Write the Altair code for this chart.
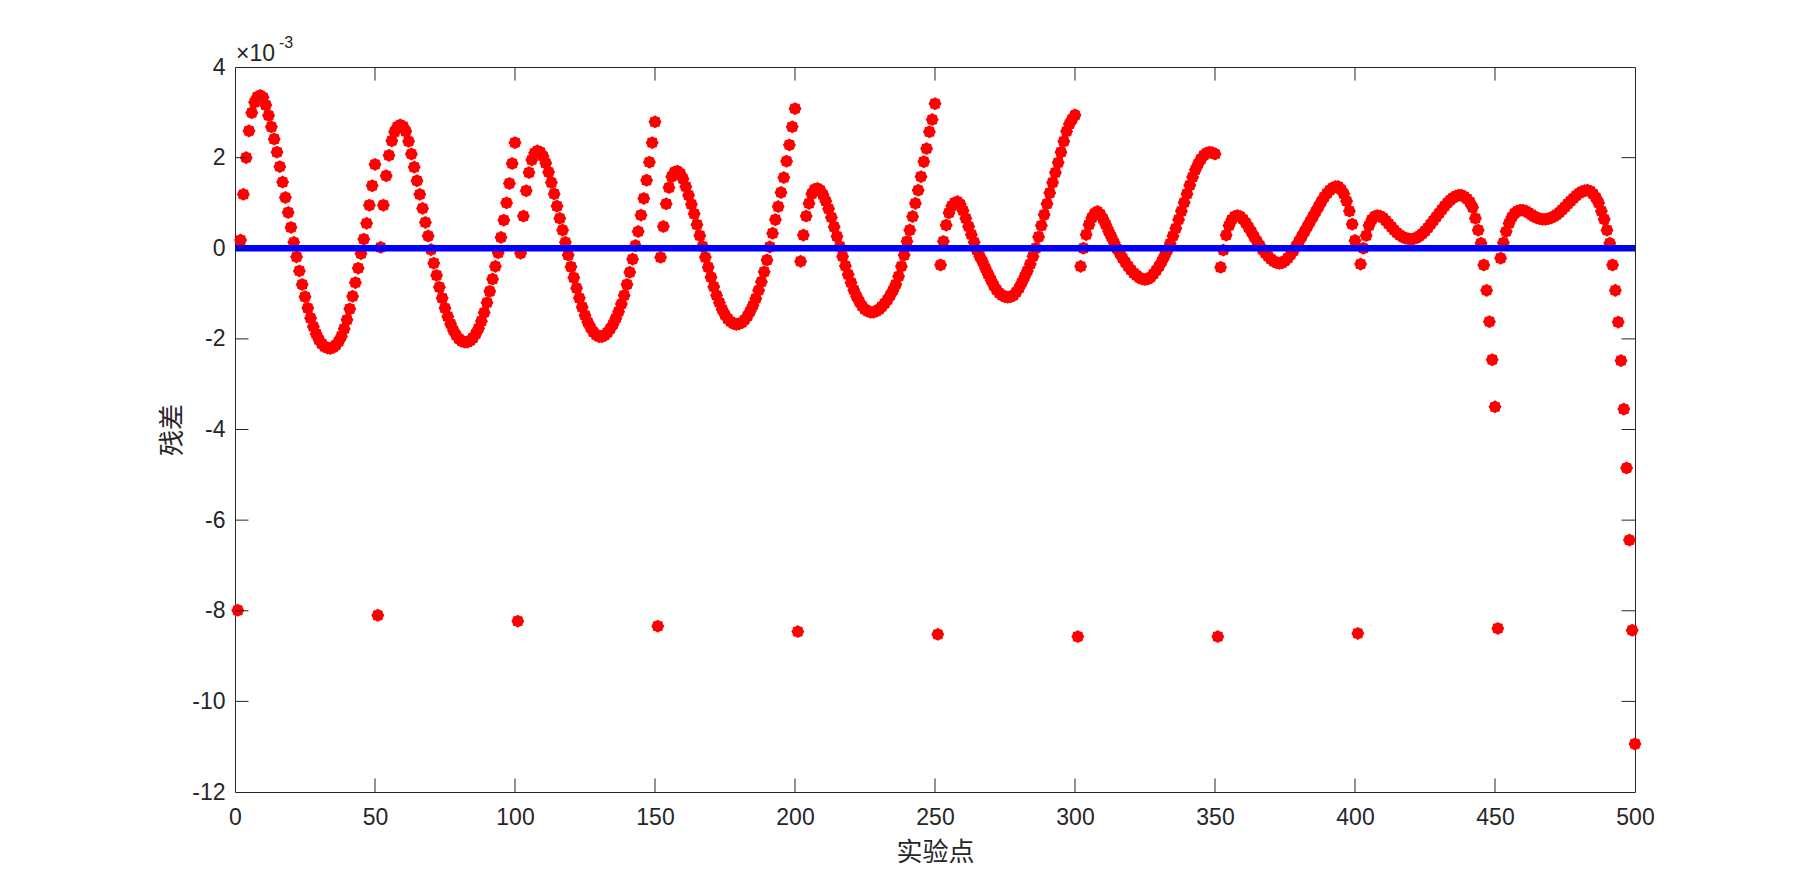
import math
import altair as alt
import pandas as pd

# ---- data (residuals, in units of 1e-3) ----
seg_start = [2, 52, 102, 152, 202, 252, 302, 352, 402, 452]

seg1 = [0.18, 1.19, 2.00, 2.59, 2.99, 3.22, 3.34, 3.37, 3.33, 3.16, 2.93, 2.68, 2.41, 2.12, 1.80,
        1.46, 1.12, 0.79, 0.46, 0.13, -0.19, -0.50, -0.80, -1.07, -1.32, -1.54, -1.73, -1.89,
        -2.02, -2.11, -2.17, -2.20, -2.21, -2.19, -2.14, -2.06, -1.94, -1.78, -1.58, -1.34,
        -1.06, -0.76, -0.44, -0.12, 0.20, 0.55, 0.95, 1.38, 1.85]
seg2 = [0.02, 0.95, 1.60, 2.05, 2.37, 2.57, 2.68, 2.72, 2.69, 2.58, 2.36, 2.08, 1.79, 1.49, 1.19,
        0.88, 0.57, 0.27, -0.03, -0.33, -0.60, -0.86, -1.10, -1.32, -1.51, -1.67, -1.81, -1.92,
        -2.00, -2.05, -2.07, -2.07, -2.04, -1.98, -1.89, -1.77, -1.61, -1.42, -1.20, -0.95,
        -0.68, -0.40, -0.10, 0.24, 0.62, 1.00, 1.43, 1.87, 2.33]
seg3 = [-0.11, 0.71, 1.27, 1.67, 1.95, 2.10, 2.15, 2.12, 2.03, 1.88, 1.68, 1.45, 1.20, 0.93, 0.66,
        0.40, 0.13, -0.15, -0.41, -0.65, -0.88, -1.10, -1.30, -1.48, -1.63, -1.75, -1.85, -1.91,
        -1.95, -1.95, -1.92, -1.86, -1.78, -1.68, -1.55, -1.40, -1.23, -1.04, -0.80, -0.53,
        -0.24, 0.06, 0.37, 0.73, 1.10, 1.50, 1.90, 2.33, 2.79]
seg4 = [-0.20, 0.48, 0.98, 1.34, 1.58, 1.68, 1.70, 1.65, 1.53, 1.36, 1.17, 0.97, 0.76, 0.52, 0.28,
        0.04, -0.20, -0.42, -0.64, -0.85, -1.04, -1.20, -1.35, -1.47, -1.56, -1.62, -1.66, -1.68,
        -1.67, -1.64, -1.58, -1.50, -1.39, -1.26, -1.11, -0.93, -0.74, -0.52, -0.26, 0.03,
        0.33, 0.63, 0.92, 1.23, 1.56, 1.92, 2.28, 2.68, 3.08]
seg5 = [-0.29, 0.29, 0.71, 0.99, 1.20, 1.30, 1.32, 1.28, 1.18, 1.04, 0.87, 0.68, 0.47, 0.26, 0.04,
        -0.18, -0.39, -0.58, -0.76, -0.92, -1.06, -1.18, -1.28, -1.35, -1.39, -1.41, -1.41, -1.39,
        -1.35, -1.29, -1.22, -1.14, -1.04, -0.93, -0.80, -0.62, -0.40, -0.15, 0.15, 0.40,
        0.70, 0.99, 1.28, 1.58, 1.91, 2.20, 2.57, 2.84, 3.19]
seg6 = [-0.37, 0.15, 0.51, 0.78, 0.93, 1.00, 1.03, 0.97, 0.83, 0.66, 0.48, 0.30, 0.13, -0.04, -0.18,
        -0.30, -0.44, -0.57, -0.70, -0.82, -0.92, -0.99, -1.04, -1.07, -1.08, -1.07, -1.04, -0.97,
        -0.88, -0.76, -0.63, -0.50, -0.35, -0.18, 0.00, 0.25, 0.50, 0.74, 0.98, 1.22,
        1.45, 1.67, 1.89, 2.12, 2.36, 2.58, 2.74, 2.85, 2.94]
seg7 = [-0.40, 0.00, 0.30, 0.52, 0.67, 0.77, 0.81, 0.75, 0.65, 0.52, 0.38, 0.25, 0.12, -0.01, -0.11,
        -0.22, -0.31, -0.40, -0.48, -0.55, -0.60, -0.65, -0.68, -0.69, -0.68, -0.64, -0.57, -0.49,
        -0.40, -0.29, -0.17, -0.04, 0.10, 0.27, 0.44, 0.63, 0.82, 1.01, 1.20, 1.39,
        1.57, 1.73, 1.86, 1.97, 2.05, 2.10, 2.12, 2.11, 2.08]
seg8 = [-0.42, -0.04, 0.29, 0.50, 0.63, 0.70, 0.72, 0.70, 0.64, 0.56, 0.46, 0.36, 0.25, 0.15, 0.06,
        -0.03, -0.11, -0.18, -0.24, -0.29, -0.32, -0.33, -0.32, -0.28, -0.22, -0.14, -0.06, 0.05,
        0.15, 0.26, 0.37, 0.48, 0.59, 0.70, 0.81, 0.92, 1.03, 1.13, 1.21, 1.28,
        1.33, 1.36, 1.36, 1.30, 1.20, 1.04, 0.82, 0.53, 0.17]
seg9 = [-0.35, 0.00, 0.28, 0.50, 0.63, 0.70, 0.72, 0.71, 0.67, 0.61, 0.54, 0.47, 0.40, 0.34, 0.29,
        0.25, 0.22, 0.21, 0.20, 0.21, 0.23, 0.27, 0.32, 0.38, 0.45, 0.53, 0.61, 0.69,
        0.77, 0.85, 0.93, 1.00, 1.06, 1.11, 1.15, 1.17, 1.17, 1.14, 1.09, 1.02,
        0.90, 0.66, 0.40, 0.11, -0.37, -0.93, -1.62, -2.46, -3.50]
seg10 = [-0.22, 0.12, 0.37, 0.55, 0.68, 0.77, 0.82, 0.84, 0.84, 0.82, 0.78, 0.74, 0.70, 0.67, 0.65,
         0.64, 0.64, 0.65, 0.67, 0.70, 0.74, 0.79, 0.85, 0.91, 0.98, 1.04, 1.10, 1.16,
         1.21, 1.25, 1.27, 1.28, 1.26, 1.20, 1.12, 1.00, 0.82, 0.64, 0.40, 0.11,
         -0.37, -0.93, -1.63, -2.48, -3.55, -4.85, -6.44, -8.43, -10.94]

outlier_x = [1, 51, 101, 151, 201, 251, 301, 351, 401, 451]
outlier_y = [-7.99, -8.10, -8.23, -8.34, -8.46, -8.52, -8.57, -8.57, -8.50, -8.39]

zero_x = [0, 500]
zero_y = [0, 0]

x_ticks = [0, 50, 100, 150, 200, 250, 300, 350, 400, 450, 500]
y_ticks = [-12, -10, -8, -6, -4, -2, 0, 2, 4]

# ---- tables ----
segs = [seg1, seg2, seg3, seg4, seg5, seg6, seg7, seg8, seg9, seg10]
rows = []
for s, seg in zip(seg_start, segs):
    for i, v in enumerate(seg):
        rows.append({"x": s + i, "y": v})
for xv, yv in zip(outlier_x, outlier_y):
    rows.append({"x": xv, "y": yv})
pts = pd.DataFrame(rows)
zero_df = pd.DataFrame({"x": zero_x, "y": zero_y})

# inward tick marks (MATLAB style)
TX = 4.8   # tick length in x units (~13.5 px)
TY = 0.3   # tick length in y units (~13.5 px)
inner_x = x_ticks[1:-1]
inner_y = y_ticks[1:-1]
tick_rows = []
for xv in inner_x:
    tick_rows.append({"x": xv, "x2": xv, "y": -12, "y2": -12 + TY})
    tick_rows.append({"x": xv, "x2": xv, "y": 4, "y2": 4 - TY})
for yv in inner_y:
    tick_rows.append({"x": 0, "x2": TX, "y": yv, "y2": yv})
    tick_rows.append({"x": 500, "x2": 500 - TX, "y": yv, "y2": yv})
ticks_df = pd.DataFrame(tick_rows)

# asterisk-like blob marker
star = []
n = 16
for k in range(n):
    r = 1.0 if k % 2 == 0 else 0.86
    a = math.pi * 2 * k / n
    star.append(f"{r*math.cos(a):.3f},{r*math.sin(a):.3f}")
star_path = "M" + "L".join(star) + "Z"

xs = alt.Scale(domain=[0, 500], nice=False, zero=False)
ys = alt.Scale(domain=[-12, 4], nice=False, zero=False)

AX = "#262626"

x_axis = alt.Axis(values=x_ticks, title="实验点", labelPadding=14, titlePadding=10,
                  labelFlush=False, labelOverlap=False)
y_axis = alt.Axis(values=y_ticks, title="残差", labelPadding=10, titlePadding=6,
                  labelExpr="'' + datum.value", labelOverlap=False)

points = alt.Chart(pts).mark_point(
    filled=True, shape=star_path, size=170, color="#ff0000", opacity=1, strokeWidth=0
).encode(
    x=alt.X("x:Q", scale=xs, axis=x_axis),
    y=alt.Y("y:Q", scale=ys, axis=y_axis),
)

zero_line = alt.Chart(zero_df).mark_line(color="#0000ff", strokeWidth=6.5, strokeCap="butt").encode(
    x=alt.X("x:Q", scale=xs, axis=x_axis),
    y=alt.Y("y:Q", scale=ys, axis=y_axis),
)

tick_marks = alt.Chart(ticks_df).mark_rule(color=AX, strokeWidth=1).encode(
    x=alt.X("x:Q", scale=xs, axis=x_axis),
    x2="x2:Q",
    y=alt.Y("y:Q", scale=ys, axis=y_axis),
    y2="y2:Q",
)

exp_base = alt.Chart(pd.DataFrame({"t": ["×10"]})).mark_text(
    align="left", baseline="alphabetic", font="Liberation Sans", fontSize=23, color=AX
).encode(x=alt.value(1), y=alt.value(-6), text="t:N")

exp_sup = alt.Chart(pd.DataFrame({"t": ["-3"]})).mark_text(
    align="left", baseline="alphabetic", font="Liberation Sans", fontSize=16, color=AX
).encode(x=alt.value(44), y=alt.value(-19), text="t:N")

chart = alt.layer(points, zero_line, tick_marks, exp_base, exp_sup).properties(
    width=1400, height=725,
    padding={"left": 227, "top": 59, "right": 150, "bottom": 80},
    autosize="none",
    background="white",
).configure_view(
    stroke=AX, strokeWidth=1
).configure_axis(
    grid=False, domain=False, ticks=False, tickSize=0,
    labelFont="Liberation Sans", labelFontSize=23, labelColor=AX,
    titleFont="Noto Sans CJK SC", titleFontSize=26, titleFontWeight="normal", titleColor=AX,
)

chart.save("out.html", embed_options={"renderer": "svg", "actions": False})
